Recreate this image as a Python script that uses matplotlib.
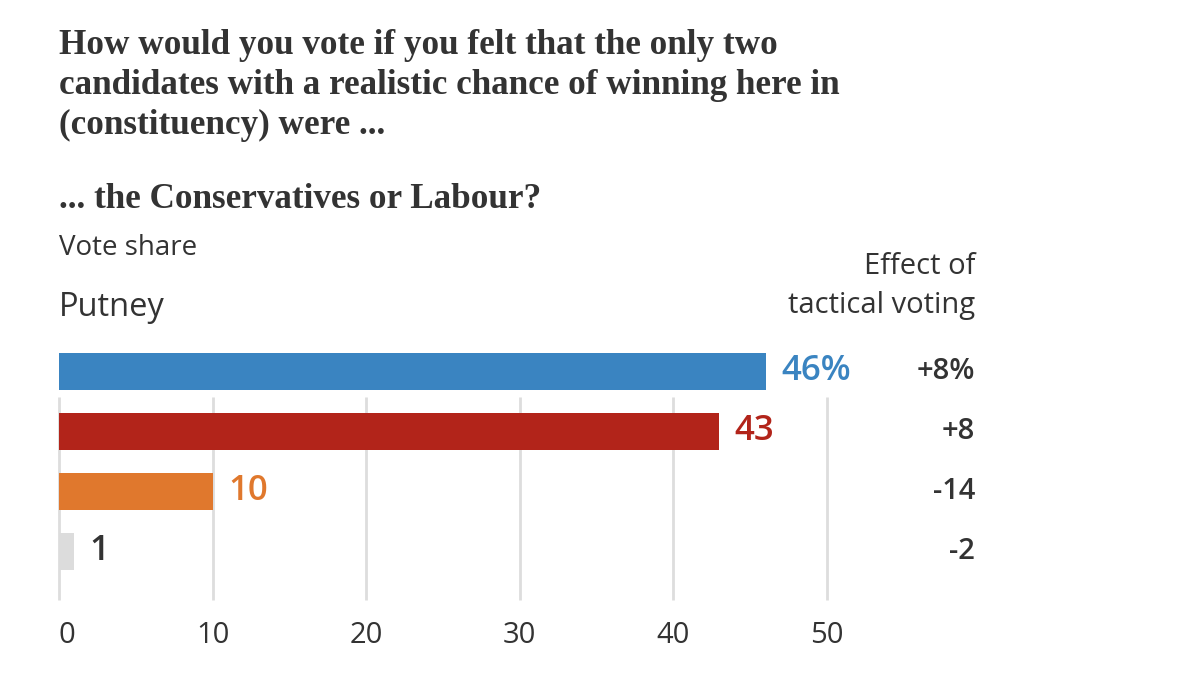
import matplotlib.pyplot as plt
from matplotlib.transforms import blended_transform_factory

# vote share under a Con-Lab squeeze, Putney
parties = ["Conservative", "Labour", "Lib Dem", "Other"]
shares = [46, 43, 10, 1]
share_labels = ["46%", "43", "10", "1"]
effects = ["+8%", "+8", "-14", "-2"]
colors = ["#3a84c1", "#b2241a", "#e0782d", "#dcdcdc"]
label_colors = ["#3a84c1", "#b2241a", "#e0782d", "#333333"]
ticks = [0, 10, 20, 30, 40, 50]

TXT = "#333333"
SANS = ["Open Sans", "DejaVu Sans"]
SERIF = ["Liberation Serif", "DejaVu Serif"]

fig = plt.figure(figsize=(12, 6.75), dpi=100)
ax = fig.add_axes([59 / 1200, 1 - 600 / 675, (827 - 59) / 1200, 260 / 675])

ypos = list(range(len(parties)))
ax.barh(ypos, shares, height=0.62, color=colors, zorder=2)
ax.vlines(ticks, 0.42, 3.81, color="#dddddd", linewidth=2, zorder=1, clip_on=False)

ax.set_xlim(0, 50)
ax.set_ylim(3.81, -0.525)
ax.set_xticks(ticks)
ax.set_xticklabels([str(t) for t in ticks], family=SANS, fontsize=21, color=TXT)
ax.get_xticklabels()[0].set_horizontalalignment("left")
ax.tick_params(axis="x", length=0, pad=15)
ax.set_yticks([])
for s in ax.spines.values():
    s.set_visible(False)

for y, v, lab, c in zip(ypos, shares, share_labels, label_colors):
    ax.text(v + 1.0, y, lab, ha="left", va="center", family=SANS,
            fontsize=25, fontweight="semibold", color=c)

# right-hand column: effect of tactical voting
col = blended_transform_factory(fig.transFigure, ax.transData)
for y, e in zip(ypos, effects):
    ax.text(975 / 1200, y, e, transform=col, ha="right", va="center",
            family=SANS, fontsize=21, fontweight="semibold", color=TXT)

fig.text(975 / 1200, 1 - 267 / 675, "Effect of", ha="right", va="center",
         family=SANS, fontsize=21, color=TXT)
fig.text(975 / 1200, 1 - 305 / 675, "tactical voting", ha="right", va="center",
         family=SANS, fontsize=21, color=TXT)

title = ["How would you vote if you felt that the only two",
         "candidates with a realistic chance of winning here in",
         "(constituency) were ..."]
for i, line in enumerate(title):
    fig.text(59 / 1200, 1 - (45 + 40 * i) / 675, line, ha="left", va="center",
             family=SERIF, fontsize=25.3, fontweight="bold", color=TXT)
fig.text(59 / 1200, 1 - 200 / 675, "... the Conservatives or Labour?", ha="left",
         va="center", family=SERIF, fontsize=25.3, fontweight="bold", color=TXT)
fig.text(59 / 1200, 1 - 248 / 675, "Vote share", ha="left", va="center",
         family=SANS, fontsize=20, color=TXT)
fig.text(59 / 1200, 1 - 307 / 675, "Putney", ha="left", va="center",
         family=SANS, fontsize=23.5, color=TXT)

fig.savefig("out.png", dpi=100, facecolor="white")
